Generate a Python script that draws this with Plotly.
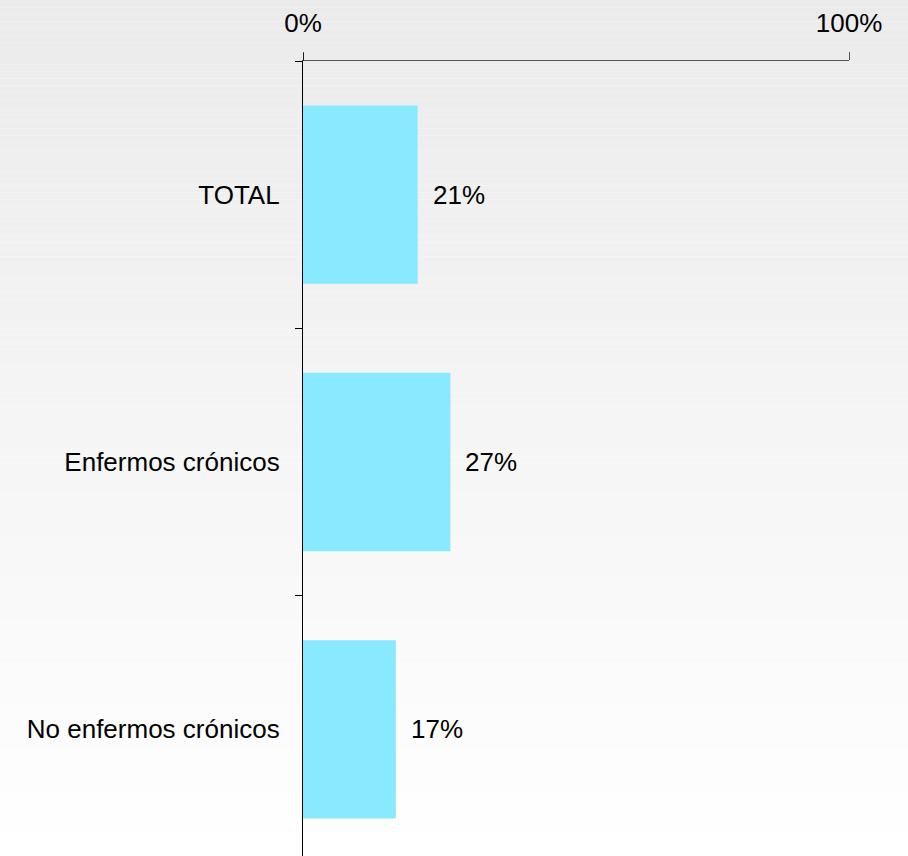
import plotly.graph_objects as go

categories = ["TOTAL", "Enfermos crónicos", "No enfermos crónicos"]
values = [21, 27, 17]
value_labels = ["21%", "27%", "17%"]
x_tick_vals = [0, 100]
x_tick_text = ["0%", "100%"]

W, H = 908, 856
FONT = "Liberation Sans, Arial, sans-serif"

fig = go.Figure()
fig.add_trace(go.Bar(
    y=categories, x=values, orientation="h",
    marker=dict(color="#89E9FF", line=dict(width=0)),
    width=0.667, hoverinfo="skip", showlegend=False,
))

# value annotations
for c, v, t in zip(categories, values, value_labels):
    fig.add_annotation(x=v, y=c, text=t, showarrow=False, xanchor="left",
                       xshift=13, font=dict(family=FONT, size=26, color="#000000"))

# gradient background over the whole page
shapes = []
N = 120
top = 1 + 61 / (H - 61)
for i in range(N):
    frac = (i + 0.5) / N
    g = int(round(235 + 20 * frac))
    ya = top - top * i / N
    yb = top - top * (i + 1) / N
    shapes.append(dict(type="rect", xref="paper", yref="paper", x0=-1, x1=2,
                       y0=yb, y1=ya, fillcolor=f"rgb({g},{g},{g})",
                       line=dict(width=0), layer="below"))
# upward extension of the vertical axis at 0%
shapes.append(dict(type="line", xref="x", yref="paper", x0=0, x1=0,
                   ysizemode="pixel", yanchor=1, y0=0, y1=8,
                   line=dict(color="#000000", width=1.3), layer="above"))

fig.update_layout(
    width=W, height=H,
    margin=dict(l=303, r=59, t=61, b=0, pad=0),
    paper_bgcolor="#ffffff", plot_bgcolor="rgba(0,0,0,0)",
    shapes=shapes,
    font=dict(family=FONT, size=26, color="#000000"),
    xaxis=dict(side="top", range=[0, 100], tickvals=x_tick_vals, ticktext=x_tick_text,
               showgrid=False, zeroline=False, showline=True, linecolor="#555555",
               linewidth=1.3, ticks="outside", ticklen=8, tickcolor="#555555",
               tickfont=dict(family=FONT, size=26, color="#000000"),
               ticklabelstandoff=9),
    yaxis=dict(type="category", categoryorder="array", categoryarray=categories,
               range=[2.474, -0.5], showgrid=False, zeroline=False, showline=True,
               linecolor="#000000", linewidth=1.3, ticks="outside", ticklen=7,
               tickcolor="#000000", tickson="boundaries",
               tickfont=dict(family=FONT, size=26, color="#000000"),
               ticklabelstandoff=17),
)

fig.write_html("out.html",
               config={"displayModeBar": False},
               post_script="document.body.style.margin='0';document.body.style.padding='0';document.body.style.overflow='hidden';")
